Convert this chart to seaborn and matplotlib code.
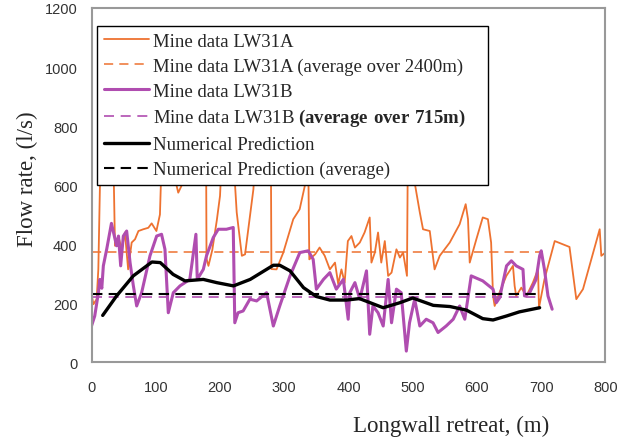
import matplotlib
matplotlib.use("Agg")
import matplotlib.pyplot as plt
import seaborn as sns
import pandas as pd

# ---------------- data ----------------
orange_x = [0, 3, 8, 10.6, 13, 15, 20, 28, 34, 36.5, 41.7, 47, 52, 57, 62.5, 67.7, 73, 80.6, 88.4, 93.6,
            101, 106.5, 110, 120, 130, 135, 140, 145, 160, 178, 179, 182, 188, 195, 200, 203, 215, 222,
            226, 234, 239, 244, 252, 255, 270, 279, 280, 288, 298.5, 314, 324, 332, 334, 337, 339, 348,
            355, 363, 371, 379, 384, 389, 394, 399, 404.6, 410, 417.6, 425, 433, 435.7, 441, 446, 451,
            456.5, 461.7, 467, 474.6, 480, 485, 491, 493, 498, 503, 511, 516, 526.5, 534, 542, 557.6,
            573, 582.4, 586, 588.7, 599, 609, 617, 622, 625, 627.5, 635, 645.7, 656, 658.6, 661, 669,
            677, 687, 695, 696.5, 705, 721, 744, 754.6, 765, 791, 793.5, 800]
orange_y = [230, 196, 213, 314, 586, 700, 650, 800, 700, 394, 427, 382, 439, 314, 405, 416, 444, 450, 455, 470,
            444, 500, 750, 900, 620, 574, 597, 700, 850, 900, 350, 326, 380, 480, 563, 700, 800, 650,
            507, 360, 365, 450, 586, 700, 850, 800, 315, 314, 371, 484, 518, 597, 700, 750, 348, 365,
            388, 360, 314, 337, 264, 314, 269, 410, 427, 388, 405, 439, 490, 337, 371, 439, 337,
            410, 292, 303, 382, 354, 371, 292, 900, 700, 608, 507, 450, 444, 314, 360, 405,
            467, 535, 484, 337, 416, 490, 484, 405, 224, 190, 235, 292, 326, 258, 224, 252,
            224, 269, 314, 184, 280, 410, 390, 213, 247, 450, 360, 371]

purple_x = [0, 5, 10.7, 13, 16, 18.4, 23.6, 31, 39, 42, 45.4, 49.5, 54.7, 60, 65, 70.3, 78, 91, 101.4, 109,
            114.3, 119.5, 127.3, 137.7, 153, 162.5, 164.6, 174, 179, 189.5, 197.3, 210, 220.6, 223, 228,
            236, 246.5, 257, 272.5, 283, 293, 309, 324.3, 337.3, 345, 350, 361, 371, 381, 392, 399.5,
            402, 410, 417.6, 428, 433, 438, 446, 454, 461.7, 467, 474.6, 482, 490, 495, 503, 511, 521,
            531.6, 539.4, 552, 563, 573, 581, 591, 609, 625, 630, 635.3, 646, 653.5, 661, 671.6, 674,
            682, 692, 697.5, 700, 705, 710.5, 717]
purple_y = [122, 156, 235, 280, 250, 326, 382, 470, 394, 427, 326, 427, 444, 337, 260, 190, 235, 360, 427, 433,
            382, 167, 235, 258, 280, 433, 280, 314, 360, 422, 450, 450, 456, 133, 167,
            173, 213, 207, 235, 122, 190, 292, 371, 377, 348, 247, 280, 303, 247, 280, 145,
            235, 269, 213, 309, 94, 190, 167, 122, 280, 133, 247, 235, 37, 133, 213, 122, 145,
            133, 100, 122, 145, 190, 145, 292, 275, 247, 201, 218, 326, 343, 326, 314, 224,
            235, 280, 360, 377, 314, 224, 179]

black_x = [17.4, 39, 65, 94, 107, 127, 145.5, 174, 195, 221, 247, 283, 293, 309, 330, 350, 371, 397, 417,
           454, 480, 500, 532, 558, 583.5, 609, 625, 646, 666, 697.5]
black_y = [158, 224, 292, 339, 337, 297, 275, 280, 269, 258, 280, 328, 328, 309, 252, 222, 210, 210, 215,
           184, 201, 217, 192, 188, 176, 147, 142.5, 156, 170, 184]

avg_x = [0, 700]
orange_avg = [373, 373]
purple_avg = [222, 222]
black_avg = [230, 230]

labels = ["Mine data LW31A",
          "Mine data LW31A (average over 2400m)",
          "Mine data LW31B",
          r"Mine data LW31B $\mathbf{(average\ over\ 715m)}$",
          "Numerical Prediction",
          "Numerical Prediction (average)"]

x_ticks = [0, 100, 200, 300, 400, 500, 600, 700, 800]
y_ticks = [0, 200, 400, 600, 800, 1000, 1200]

# ---------------- style ----------------
sns.set_style("white")
plt.rcParams["font.family"] = ["Liberation Serif", "DejaVu Serif"]
plt.rcParams["mathtext.fontset"] = "custom"
plt.rcParams["mathtext.rm"] = "Liberation Serif"
plt.rcParams["mathtext.bf"] = "Liberation Serif:bold"

ORANGE = "#EE7230"
PURPLE = "#B04DB0"
BLACK = "#000000"

fig = plt.figure(figsize=(6.29, 4.39), dpi=100)
ax = fig.add_axes([0.1455, 0.1731, 0.8171, 0.8064])

df_o = pd.DataFrame({"x": orange_x, "y": orange_y})
df_p = pd.DataFrame({"x": purple_x, "y": purple_y})
df_b = pd.DataFrame({"x": black_x, "y": black_y})

sns.lineplot(data=df_o, x="x", y="y", sort=False, estimator=None, color=ORANGE, lw=1.3,
             label=labels[0], ax=ax)
sns.lineplot(x=avg_x, y=orange_avg, color=ORANGE, lw=1.1, linestyle=(0, (6, 4)),
             label=labels[1], ax=ax)
sns.lineplot(data=df_p, x="x", y="y", sort=False, estimator=None, color=PURPLE, lw=2.2,
             label=labels[2], ax=ax)
sns.lineplot(x=avg_x, y=purple_avg, color=PURPLE, lw=1.2, linestyle=(0, (6, 4)),
             label=labels[3], ax=ax)
sns.lineplot(data=df_b, x="x", y="y", sort=False, estimator=None, color=BLACK, lw=2.4,
             label=labels[4], ax=ax)
sns.lineplot(x=avg_x, y=black_avg, color=BLACK, lw=1.5, linestyle=(0, (5, 3)),
             label=labels[5], ax=ax)

ax.set_xlim(0, 800)
ax.set_ylim(0, 1200)
ax.set_xticks(x_ticks)
ax.set_yticks(y_ticks)
for lab in ax.get_xticklabels() + ax.get_yticklabels():
    lab.set_fontfamily("Liberation Sans")
    lab.set_fontsize(10.5)
    lab.set_color("#333333")
ax.tick_params(direction="out", length=5, width=1, color="#888888", pad=8)
ax.tick_params(axis="y", pad=5)
for s in ax.spines.values():
    s.set_color("#999999")
    s.set_linewidth(1.5)

ax.set_xlabel("Longwall retreat, (m)", fontsize=16.5)
ax.xaxis.set_label_coords(0.70, -0.15)
ax.set_ylabel("Flow rate, (l/s)", fontsize=16.5)
ax.yaxis.set_label_coords(-0.104, 0.52)

leg = ax.legend(loc="upper left", bbox_to_anchor=(0.011, 0.503, 0.76, 0.446), mode="expand",
                borderaxespad=0, fontsize=13.5, frameon=True, fancybox=False, framealpha=1,
                edgecolor="black", handlelength=2.4, handletextpad=0.25, labelspacing=0.41,
                borderpad=0.35)
leg.get_frame().set_linewidth(1.0)

fig.savefig("out.png", dpi=100)
